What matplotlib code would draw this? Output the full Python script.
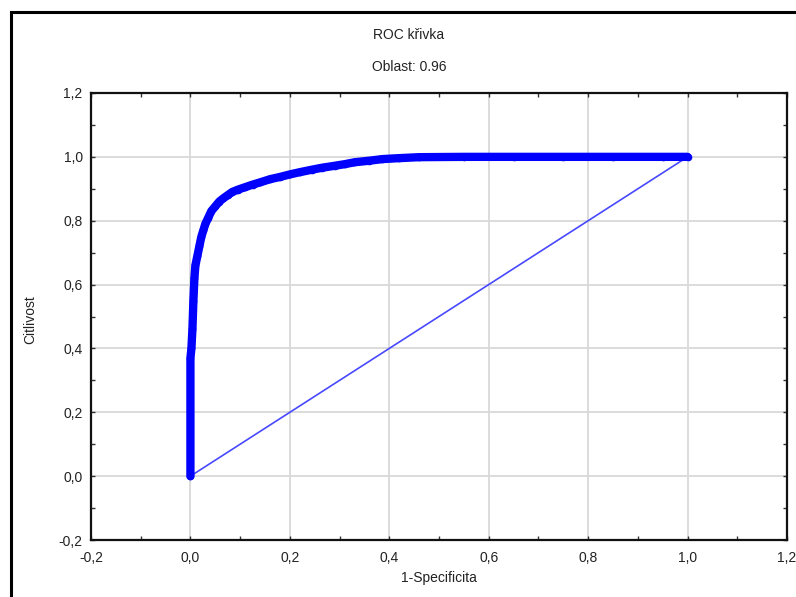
import matplotlib
matplotlib.use("Agg")
import matplotlib.pyplot as plt
from matplotlib.patches import Rectangle
from matplotlib.ticker import MultipleLocator, FuncFormatter

plt.rcParams['font.family'] = ['Liberation Sans', 'DejaVu Sans']

title = "ROC křivka"
subtitle = "Oblast: 0.96"
xlabel = "1-Specificita"
ylabel = "Citlivost"

fpr = [0.0, 0.0, 0.002, 0.004, 0.006, 0.008, 0.010, 0.014, 0.018, 0.022, 0.026,
       0.030, 0.036, 0.042, 0.050, 0.058, 0.066, 0.075, 0.084, 0.095, 0.11,
       0.125, 0.14, 0.16, 0.18, 0.20, 0.22, 0.245, 0.265, 0.29, 0.31, 0.33,
       0.36, 0.386, 0.42, 0.46, 0.55, 0.65, 0.75, 0.85, 0.95, 1.0]
tpr = [0.0, 0.37, 0.40, 0.46, 0.55, 0.62, 0.66, 0.69, 0.72, 0.75, 0.77,
       0.79, 0.81, 0.83, 0.845, 0.86, 0.87, 0.88, 0.89, 0.897, 0.905,
       0.913, 0.92, 0.93, 0.937, 0.945, 0.952, 0.96, 0.966, 0.972, 0.977, 0.983,
       0.988, 0.993, 0.996, 0.999, 1.0, 1.0, 1.0, 1.0, 1.0, 1.0]
diag_x = [0.0, 1.0]
diag_y = [0.0, 1.0]

W, H = 796, 597
fig = plt.figure(figsize=(W / 100, H / 100), dpi=100)
ax = fig.add_axes([91 / W, 57 / H, (787 - 91) / W, (540 - 93) / H])

ax.plot(diag_x, diag_y, color='#4848ff', linewidth=1.2, zorder=3)
ax.plot(fpr, tpr, color='#0000ff', linewidth=6, marker='o', markersize=5.5,
        markeredgewidth=0, solid_capstyle='round', solid_joinstyle='round', zorder=4)

ax.set_xlim(-0.2, 1.2)
ax.set_ylim(-0.2, 1.2)
ax.xaxis.set_major_locator(MultipleLocator(0.2))
ax.yaxis.set_major_locator(MultipleLocator(0.2))
ax.xaxis.set_minor_locator(MultipleLocator(0.1))
ax.yaxis.set_minor_locator(MultipleLocator(0.1))
fmt = FuncFormatter(lambda v, p: f"{v:.1f}".replace('.', ',').replace('-0,0', '0,0'))
ax.xaxis.set_major_formatter(fmt)
ax.yaxis.set_major_formatter(fmt)
ax.grid(True, which='major', color='#d9d9d9', linewidth=1.3, zorder=0)
ax.set_axisbelow(True)
ax.tick_params(which='major', direction='in', length=3, width=1, color='#333333',
               top=True, right=True, labelsize=10, labelcolor='#222222')
ax.tick_params(axis='x', which='major', pad=8)
ax.tick_params(axis='y', which='major', pad=6)
ax.tick_params(which='minor', direction='in', length=3, width=1, color='#333333',
               top=True, right=True)
for s in ax.spines.values():
    s.set_linewidth(1.6)
    s.set_color('#111111')

fig.text(409 / W, 1 - 35 / H, title, ha='center', va='center', fontsize=10, color='#222222')
fig.text(409 / W, 1 - 67 / H, subtitle, ha='center', va='center', fontsize=10, color='#222222')
fig.text(439 / W, 1 - 578 / H, xlabel, ha='center', va='center', fontsize=10, color='#222222')
fig.text(30 / W, 1 - 320 / H, ylabel, ha='center', va='center', fontsize=10,
         rotation=90, color='#222222')

fig.patches.append(Rectangle((10.5 / W, -0.1), 1.2, 1 - 11.5 / H + 0.1,
                             transform=fig.transFigure, fill=False,
                             edgecolor='black', linewidth=2.2, zorder=10))

fig.savefig("out.png", dpi=100)
